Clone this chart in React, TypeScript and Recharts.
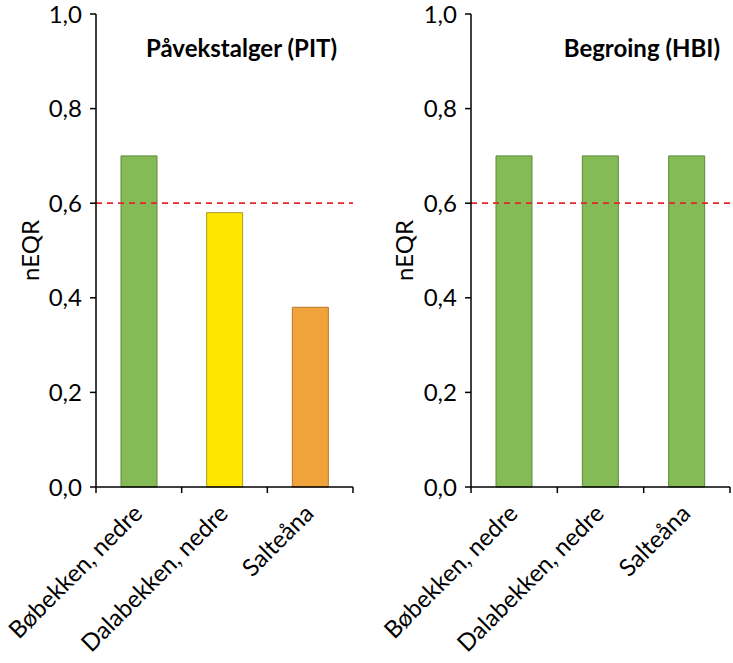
import React from "react";
import { BarChart, Bar, Cell, XAxis, YAxis, ReferenceLine } from "recharts";

const sites = ["Bøbekken, nedre", "Dalabekken, nedre", "Salteåna"];
const pitValues = [0.7, 0.58, 0.38];
const hbiValues = [0.7, 0.7, 0.7];
const pitColors = ["#84bb57", "#ffe600", "#f0a33a"];
const pitStrokes = ["#5c8a3a", "#a99a20", "#b5782c"];
const hbiColors = ["#84bb57", "#84bb57", "#84bb57"];
const hbiStrokes = ["#5c8a3a", "#5c8a3a", "#5c8a3a"];
const yTicks = [0, 0.2, 0.4, 0.6, 0.8, 1.0];
const goodLimit = 0.6;

const FONT = "Lato, 'Open Sans', sans-serif";
const fmt = (v: number) => v.toFixed(1).replace(".", ",");

function SiteTick(props: any) {
  const { x, y, payload, index, band } = props;
  const half = band / 2;
  return (
    <g>
      <line x1={x - half} y1={y} x2={x - half} y2={y + 6} stroke="#000" strokeWidth={1.5} />
      {index === sites.length - 1 && (
        <line x1={x + half} y1={y} x2={x + half} y2={y + 6} stroke="#000" strokeWidth={1.5} />
      )}
      <text
        x={x + 5}
        y={y + 28}
        transform={`rotate(-45, ${x + 5}, ${y + 28})`}
        textAnchor="end"
        fontSize={24}
        fontFamily={FONT}
        fill="#000"
      >
        {payload.value}
      </text>
    </g>
  );
}

type PanelProps = {
  values: number[];
  colors: string[];
  strokes: string[];
  width: number;
  axisWidth: number;
  rightMargin: number;
  labelX: number;
};

function Panel({ values, colors, strokes, width, axisWidth, rightMargin, labelX }: PanelProps) {
  const data = sites.map((name, i) => ({ name, value: values[i] }));
  const band = (width - axisWidth - rightMargin) / sites.length;
  return (
    <BarChart
      width={width}
      height={663}
      data={data}
      margin={{ top: 14, right: rightMargin, left: 0, bottom: 0 }}
      barSize={36}
    >
      <XAxis
        dataKey="name"
        height={176}
        axisLine={{ stroke: "#000", strokeWidth: 1.5 }}
        tickLine={false}
        tickSize={0}
        tickMargin={0}
        interval={0}
        tick={<SiteTick band={band} />}
      />
      <XAxis
        xAxisId="top"
        dataKey="name"
        orientation="top"
        height={0}
        tick={false}
        tickLine={false}
        axisLine={{ stroke: "#000", strokeWidth: 1.5 }}
      />
      <YAxis
        width={axisWidth}
        domain={[0, 1]}
        ticks={yTicks}
        tickFormatter={fmt}
        tickSize={6}
        tickMargin={8}
        axisLine={{ stroke: "#000", strokeWidth: 1.5 }}
        tickLine={{ stroke: "#000", strokeWidth: 1.5 }}
        tick={{ fill: "#000", fontSize: 24, fontFamily: FONT }}
        label={{
          content: ({ viewBox }: any) => {
            const cx = viewBox.x + labelX;
            const cy = viewBox.y + viewBox.height / 2;
            return (
              <text
                x={cx}
                y={cy}
                transform={`rotate(-90, ${cx}, ${cy})`}
                textAnchor="middle"
                fontSize={24}
                fontFamily={FONT}
                fill="#000"
              >
                nEQR
              </text>
            );
          },
        }}
      />
      <YAxis
        yAxisId="right"
        orientation="right"
        width={0}
        domain={[0, 1]}
        tick={false}
        tickLine={false}
        axisLine={{ stroke: "#000", strokeWidth: 1.5 }}
      />
      <Bar dataKey="value" isAnimationActive={false} strokeWidth={1}>
        {data.map((d, i) => (
          <Cell key={d.name} fill={colors[i]} stroke={strokes[i]} />
        ))}
      </Bar>
      <ReferenceLine
        y={goodLimit}
        stroke="#e3262a"
        strokeWidth={1.8}
        strokeDasharray="6 5"
        ifOverflow="extendDomain"
      />
    </BarChart>
  );
}

const titleStyle: React.CSSProperties = {
  position: "absolute",
  top: 36,
  fontFamily: FONT,
  fontWeight: 700,
  fontSize: 24,
  lineHeight: 1,
  color: "#000",
  whiteSpace: "nowrap",
};

export default function App() {
  return (
    <div style={{ position: "absolute", left: 0, top: 0, width: 733, height: 663, background: "#fff" }}>
      <div style={{ position: "absolute", left: 0, top: 0 }}>
        <Panel
          values={pitValues}
          colors={pitColors}
          strokes={pitStrokes}
          width={366}
          axisWidth={96}
          rightMargin={13}
          labelX={39}
        />
      </div>
      <div style={{ position: "absolute", left: 366, top: 0 }}>
        <Panel
          values={hbiValues}
          colors={hbiColors}
          strokes={hbiStrokes}
          width={367}
          axisWidth={105}
          rightMargin={3}
          labelX={47}
        />
      </div>
      <div style={{ ...titleStyle, right: 733 - 337 }}>Påvekstalger (PIT)</div>
      <div style={{ ...titleStyle, right: 733 - 720 }}>Begroing (HBI)</div>
    </div>
  );
}
